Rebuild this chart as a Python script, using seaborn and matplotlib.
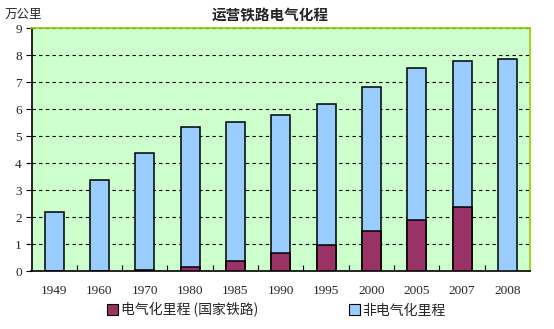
import numpy as np
import pandas as pd
import matplotlib
matplotlib.use("Agg")
import matplotlib.pyplot as plt
import seaborn as sns
from matplotlib.patches import Patch

years = ["1949", "1960", "1970", "1980", "1985", "1990", "1995", "2000", "2005", "2007", "2008"]
total_km = [2.18, 3.40, 4.38, 5.33, 5.52, 5.78, 6.21, 6.84, 7.54, 7.80, 7.88]
electrified_km = [0.0, 0.0, 0.03, 0.17, 0.40, 0.69, 0.99, 1.51, 1.91, 2.40, np.nan]

title = "运营铁路电气化程"
unit = "万公里"
label_elec = "电气化里程 (国家铁路)"
label_nonelec = "非电气化里程"

sns.set_theme(style="white")
plt.rcParams["font.family"] = ["Noto Sans CJK SC", "DejaVu Sans"]

df = pd.DataFrame({"year": years, "total": total_km, "elec": electrified_km})

fig = plt.figure(figsize=(5.54, 3.29), dpi=100)
ax = fig.add_axes([31.5 / 554, 1 - 271.3 / 329, (530 - 31.5) / 554, (271.3 - 28.3) / 329])
ax.set_facecolor("#CCFFCC")

blue = "#99CCFF"
purple = "#993366"

sns.barplot(data=df, x="year", y="total", color=blue, saturation=1, width=0.42,
            edgecolor="black", linewidth=1.1, ax=ax, zorder=3)
sns.barplot(data=df, x="year", y="elec", color=purple, saturation=1, width=0.42,
            edgecolor="black", linewidth=1.1, ax=ax, zorder=4)

ax.set_xlim(-0.5, len(years) - 0.5)
ax.set_ylim(0, 9)
ax.set_yticks(range(0, 10))
ax.yaxis.grid(True, linestyle=(0, (3, 3)), color="black", linewidth=0.8, zorder=1)
ax.set_axisbelow(True)
ax.set_xlabel("")
ax.set_ylabel("")

tick_font = {"family": ["Liberation Serif"], "size": 9.5}
ax.set_xticks(range(len(years)))
ax.set_xticklabels(years, fontdict=tick_font)
ax.set_yticklabels([str(v) for v in range(0, 10)], fontdict=tick_font)
ax.set_xticks(np.arange(0.5, len(years) - 0.5, 1), minor=True)
ax.tick_params(axis="x", which="major", length=0, pad=10)
ax.tick_params(axis="x", which="minor", direction="in", length=4, width=0.8, color="black", bottom=True)
ax.tick_params(axis="y", which="major", direction="out", length=4, width=0.8, color="black", left=True, pad=3)

for side in ["left", "bottom"]:
    ax.spines[side].set_color("black")
    ax.spines[side].set_linewidth(1.2)
for side in ["top", "right"]:
    ax.spines[side].set_color("#99CC00")
    ax.spines[side].set_linewidth(1.2)
    ax.spines[side].set_visible(True)

fig.text(270 / 554, 1 - 15 / 329, title, ha="center", va="center", fontsize=10.5, fontweight="bold")
fig.text(5 / 554, 1 - 14 / 329, unit, ha="left", va="center", fontsize=9)

handles = [Patch(facecolor=purple, edgecolor="black", linewidth=0.8, label=label_elec),
           Patch(facecolor=blue, edgecolor="black", linewidth=0.8, label=label_nonelec)]
fig.legend(handles=handles, loc="center", bbox_to_anchor=(0.499, 1 - 310 / 329), ncol=2,
           frameon=False, fontsize=10, handlelength=0.8, handleheight=0.8,
           handletextpad=0.2, columnspacing=6.5)

fig.savefig("out.png", dpi=100)
